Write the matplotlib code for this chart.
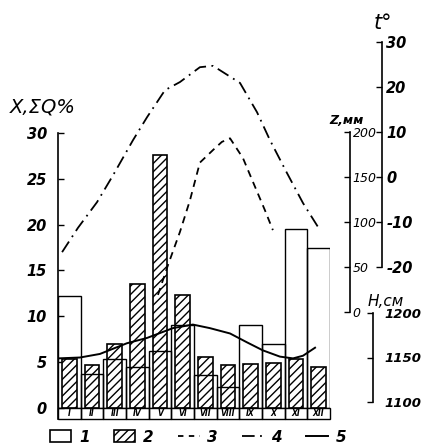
import numpy as np
import matplotlib
matplotlib.use("Agg")
import matplotlib.pyplot as plt
from matplotlib.patches import Rectangle, Patch
from matplotlib.lines import Line2D

plt.rcParams['font.family'] = ['DejaVu Sans']
plt.rcParams['axes.unicode_minus'] = False
plt.rcParams['hatch.linewidth'] = 1.0

# месяцы
months = np.arange(1, 13)
month_names = ["I", "II", "III", "IV", "V", "VI", "VII", "VIII", "IX", "X", "XI", "XII"]

# 1 - X, %  (open bars)
x_pct = [12.2, 3.7, 5.3, 4.5, 6.2, 9.1, 3.6, 2.3, 9.1, 7.0, 19.5, 17.5]
# 2 - ΣQ, % (hatched bars)
q_pct = [5.3, 4.7, 7.0, 13.5, 27.6, 12.3, 5.6, 4.7, 4.8, 4.9, 5.3, 4.5]

# 3 - Z, mm (dashed)
z_m = [4.91, 5.35, 5.88, 6.32, 6.76, 7.34, 7.73, 8.09, 8.66, 9.06, 9.63, 9.98]
z_mm = [19, 52, 89, 124, 166, 180, 189, 193, 171, 147, 113, 91]

# 4 - t, °C (dash-dot)
t_m = [0.68, 1.38, 2.22, 2.93, 3.81, 4.43, 5.22, 5.88, 6.76, 7.34, 8.53, 9.28, 9.85, 10.6, 11.31, 11.97]
t_c = [-16.7, -11.3, -5.6, 0.4, 8.2, 13.3, 19.3, 21.1, 24.4, 24.7, 20.9, 14.4, 8.2, 0.9, -5.8, -11.1]

# 5 - H, cm (solid)
h_m = [0.5, 1.47, 2.35, 3.54, 4.43, 5.57, 6.45, 7.2, 8.09, 8.84, 9.54, 10.29, 10.87, 11.31, 11.84]
h_cm = [1149, 1150, 1154, 1166, 1172, 1183, 1187, 1183, 1177, 1167, 1158, 1151, 1149, 1152, 1161]

W, H = 421, 448
fig = plt.figure(figsize=(W / 100, H / 100), dpi=100)
ax = fig.add_axes([58 / W, 1 - 408 / H, 272 / W, 368 / H])
ax.set_xlim(0.5, 12.5)
ax.set_ylim(0, 368 / 9.17)

tick_font = dict(fontsize=10.5, fontweight='bold', fontstyle='italic')

# столбцы
ax.bar(months, q_pct, width=0.64, facecolor='white', edgecolor='black',
       hatch='////', linewidth=1.2, zorder=2)
ax.bar(months, x_pct, width=1.0, fill=False, edgecolor='black',
       linewidth=1.0, zorder=3)

# подписи месяцев в клетках
for m, name in zip(months, month_names):
    ax.add_patch(Rectangle((m - 0.5, -1.2), 1, 1.2, fill=False, edgecolor='black',
                           linewidth=1.0, clip_on=False))
    ax.text(m, -0.62, name, ha='center', va='center', fontsize=5.5,
            fontweight='bold', fontstyle='italic', clip_on=False)

for s in ['top', 'right', 'bottom']:
    ax.spines[s].set_visible(False)
ax.spines['left'].set_bounds(-1.2, 30)
ax.spines['left'].set_linewidth(1.2)
ax.set_xticks([])
ax.set_yticks(range(0, 31, 5))
ax.set_yticklabels([str(v) for v in range(0, 31, 5)], **tick_font)
ax.tick_params(axis='y', direction='in', length=4, width=1, pad=8)


def side_axis(pos_px, lo, hi, px0, val0, ppu, ticks, lw=1.2, pad=3, font=None):
    a = ax.twinx()
    a.set_ylim(val0 - (408 - px0) / ppu, val0 + (px0 - 40) / ppu)
    for s in ['top', 'left', 'bottom']:
        a.spines[s].set_visible(False)
    a.spines['right'].set_position(('axes', (pos_px - 58) / 272))
    a.spines['right'].set_bounds(lo, hi)
    a.spines['right'].set_linewidth(lw)
    a.set_yticks(ticks)
    a.set_yticklabels([str(v) for v in ticks], **(font or tick_font))
    a.tick_params(axis='y', direction='in', length=4, width=1, pad=pad)
    return a


axz = side_axis(350, 0, 200, 312, 0, 0.9, [0, 50, 100, 150, 200], pad=2,
                font=dict(fontsize=9, fontstyle='italic'))
axh = side_axis(373, 1100, 1200, 402, 1100, 0.89, [1100, 1150, 1200], pad=8,
                font=dict(fontsize=9.5, fontweight='bold', fontstyle='italic'))
axt = side_axis(382, -20, 30, 177, 0, 4.5, [-20, -10, 0, 10, 20, 30], pad=3)

axz.plot(z_m, z_mm, color='black', linestyle=(0, (4, 3)), linewidth=1.3)
axt.plot(t_m, t_c, color='black', linestyle=(0, (7, 3, 1, 3)), linewidth=1.3)
axh.plot(h_m, h_cm, color='black', linestyle='-', linewidth=1.4)

# подписи осей
fig.text(10 / W, 1 - 107 / H, "X,ΣQ%", fontsize=14, fontstyle='italic', va='center')
fig.text(347 / W, 1 - 120 / H, "Z,мм", fontsize=9, fontweight='bold',
         fontstyle='italic', ha='center', va='center')
fig.text(383 / W, 1 - 23 / H, "t°", fontsize=15, fontstyle='italic',
         ha='center', va='center')
fig.text(386 / W, 1 - 301 / H, "H,см", fontsize=11, fontstyle='italic',
         ha='center', va='center')

# легенда
handles = [Patch(facecolor='white', edgecolor='black', linewidth=1.2),
           Patch(facecolor='white', edgecolor='black', hatch='////', linewidth=1.2),
           Line2D([], [], color='black', linestyle=(0, (3, 3)), linewidth=1.3),
           Line2D([], [], color='black', linestyle=(0, (7, 3, 1, 3)), linewidth=1.3),
           Line2D([], [], color='black', linewidth=1.4)]
fig.legend(handles, ['1', '2', '3', '4', '5'], ncol=5, loc='center',
           bbox_to_anchor=(198 / W, 1 - 437 / H), frameon=False,
           handlelength=1.4, handleheight=0.8, handletextpad=0.5,
           columnspacing=1.6, borderpad=0.1,
           prop=dict(size=11, weight='bold', style='italic'))

fig.savefig("out.png", dpi=100)
